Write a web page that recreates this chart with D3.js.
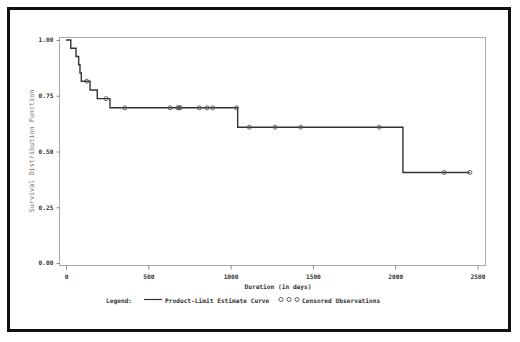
<!DOCTYPE html>
<html>
<head>
<meta charset="utf-8">
<script src="https://cdn.jsdelivr.net/npm/d3@7"></script>
<style>
    body { margin: 0; background: #fff; }
    svg text { font-family: "DejaVu Sans Mono", monospace; fill: #333; }
    .tick text { font-size: 6.2px; font-weight: bold; }
    .tick line { stroke: #888; }
    .title { font-size: 6.2px; font-weight: bold; }
    .y.title { font-size: 6.8px; font-weight: normal; fill: #777; }
    .legend text { font-size: 6.2px; font-weight: bold; }
    .km.line { fill: none; stroke: #333; stroke-width: 1.4; }
    .censor { fill: none; stroke: #555; stroke-width: 0.9; }
</style>
</head>
<body>
<svg id="chart" width="520" height="342"></svg>
<script>
    // step points of the product-limit curve (day where S drops, new S)
    const eventDays = [0, 29, 61, 77, 85, 93, 146, 190, 267, 1043, 2047];
    const eventSurvival = [1.00, 0.963, 0.926, 0.889, 0.852, 0.815, 0.776, 0.737, 0.696, 0.609, 0.406];

    // censored observations
    const censorDays = [126, 243, 357, 632, 679, 687, 694, 810, 857, 891, 1035,
                        1114, 1270, 1426, 1903, 2298, 2454];
    const censorSurvival = [0.815, 0.737, 0.696, 0.696, 0.696, 0.696, 0.696, 0.696, 0.696, 0.696, 0.696,
                            0.609, 0.609, 0.609, 0.609, 0.406, 0.406];

    const xTicks = [0, 500, 1000, 1500, 2000, 2500];
    const yTicks = [0, 0.25, 0.5, 0.75, 1.0];

    const lastDay = 2454;

    let svg = d3.select("#chart");

    // outer border
    svg.append("rect")
        .attr("x", 8.5).attr("y", 8.5)
        .attr("width", 501).attr("height", 322)
        .attr("fill", "none").attr("stroke", "#111").attr("stroke-width", 3);

    let frame = {left: 59.5, top: 37.5, right: 485.5, bottom: 265.5};

    let x = d3.scaleLinear().domain([0, 2500]).range([66, 477.5]);
    let y = d3.scaleLinear().domain([0, 1]).range([263, 40]);

    svg.append("rect")
        .attr("x", frame.left).attr("y", frame.top)
        .attr("width", frame.right - frame.left).attr("height", frame.bottom - frame.top)
        .attr("fill", "none").attr("stroke", "#aaa").attr("stroke-width", 1);

    let xAxis = svg.append("g")
        .attr("class", "x axis")
        .attr("transform", "translate(0," + frame.bottom + ")")
        .call(d3.axisBottom(x).tickValues(xTicks).tickSizeInner(4).tickSizeOuter(0).tickPadding(5).tickFormat(d3.format("d")));
    xAxis.select(".domain").remove();

    let yAxis = svg.append("g")
        .attr("class", "y axis")
        .attr("transform", "translate(" + frame.left + ",0)")
        .call(d3.axisLeft(y).tickValues(yTicks).tickSizeInner(3).tickSizeOuter(0).tickPadding(3).tickFormat(d3.format(".2f")));
    yAxis.select(".domain").remove();

    svg.append("text")
        .attr("class", "x title")
        .attr("x", 278).attr("y", 289)
        .attr("text-anchor", "middle")
        .text("Duration (in days)");

    svg.append("text")
        .attr("class", "y title")
        .attr("transform", "translate(34,151) rotate(-90)")
        .attr("text-anchor", "middle")
        .text("Survival Distribution Function");

    // KM curve
    let steps = eventDays.map((d, i) => ({day: d, s: eventSurvival[i]}));
    steps.push({day: lastDay, s: eventSurvival[eventSurvival.length - 1]});

    let line = d3.line()
        .x(d => x(d.day))
        .y(d => y(d.s))
        .curve(d3.curveStepAfter);

    svg.append("path")
        .datum(steps)
        .attr("class", "km line")
        .attr("d", line);

    svg.append("g").selectAll("circle")
        .data(censorDays.map((d, i) => ({day: d, s: censorSurvival[i]})))
        .enter().append("circle")
            .attr("class", "censor")
            .attr("r", 2)
            .attr("cx", d => x(d.day))
            .attr("cy", d => y(d.s));

    // legend
    let legend = svg.append("g").attr("class", "legend");
    legend.append("text").attr("x", 106).attr("y", 302.5).text("Legend:");
    legend.append("line")
        .attr("x1", 144).attr("x2", 162).attr("y1", 299.5).attr("y2", 299.5)
        .attr("stroke", "#333").attr("stroke-width", 1.2);
    legend.append("text").attr("x", 165).attr("y", 302.5).text("Product-Limit Estimate Curve");
    legend.selectAll("circle")
        .data([281, 289, 297])
        .enter().append("circle")
            .attr("class", "censor")
            .attr("r", 2)
            .attr("cx", d => d)
            .attr("cy", 299.5);
    legend.append("text").attr("x", 302).attr("y", 302.5).text("Censored Observations");
</script>
</body>
</html>
